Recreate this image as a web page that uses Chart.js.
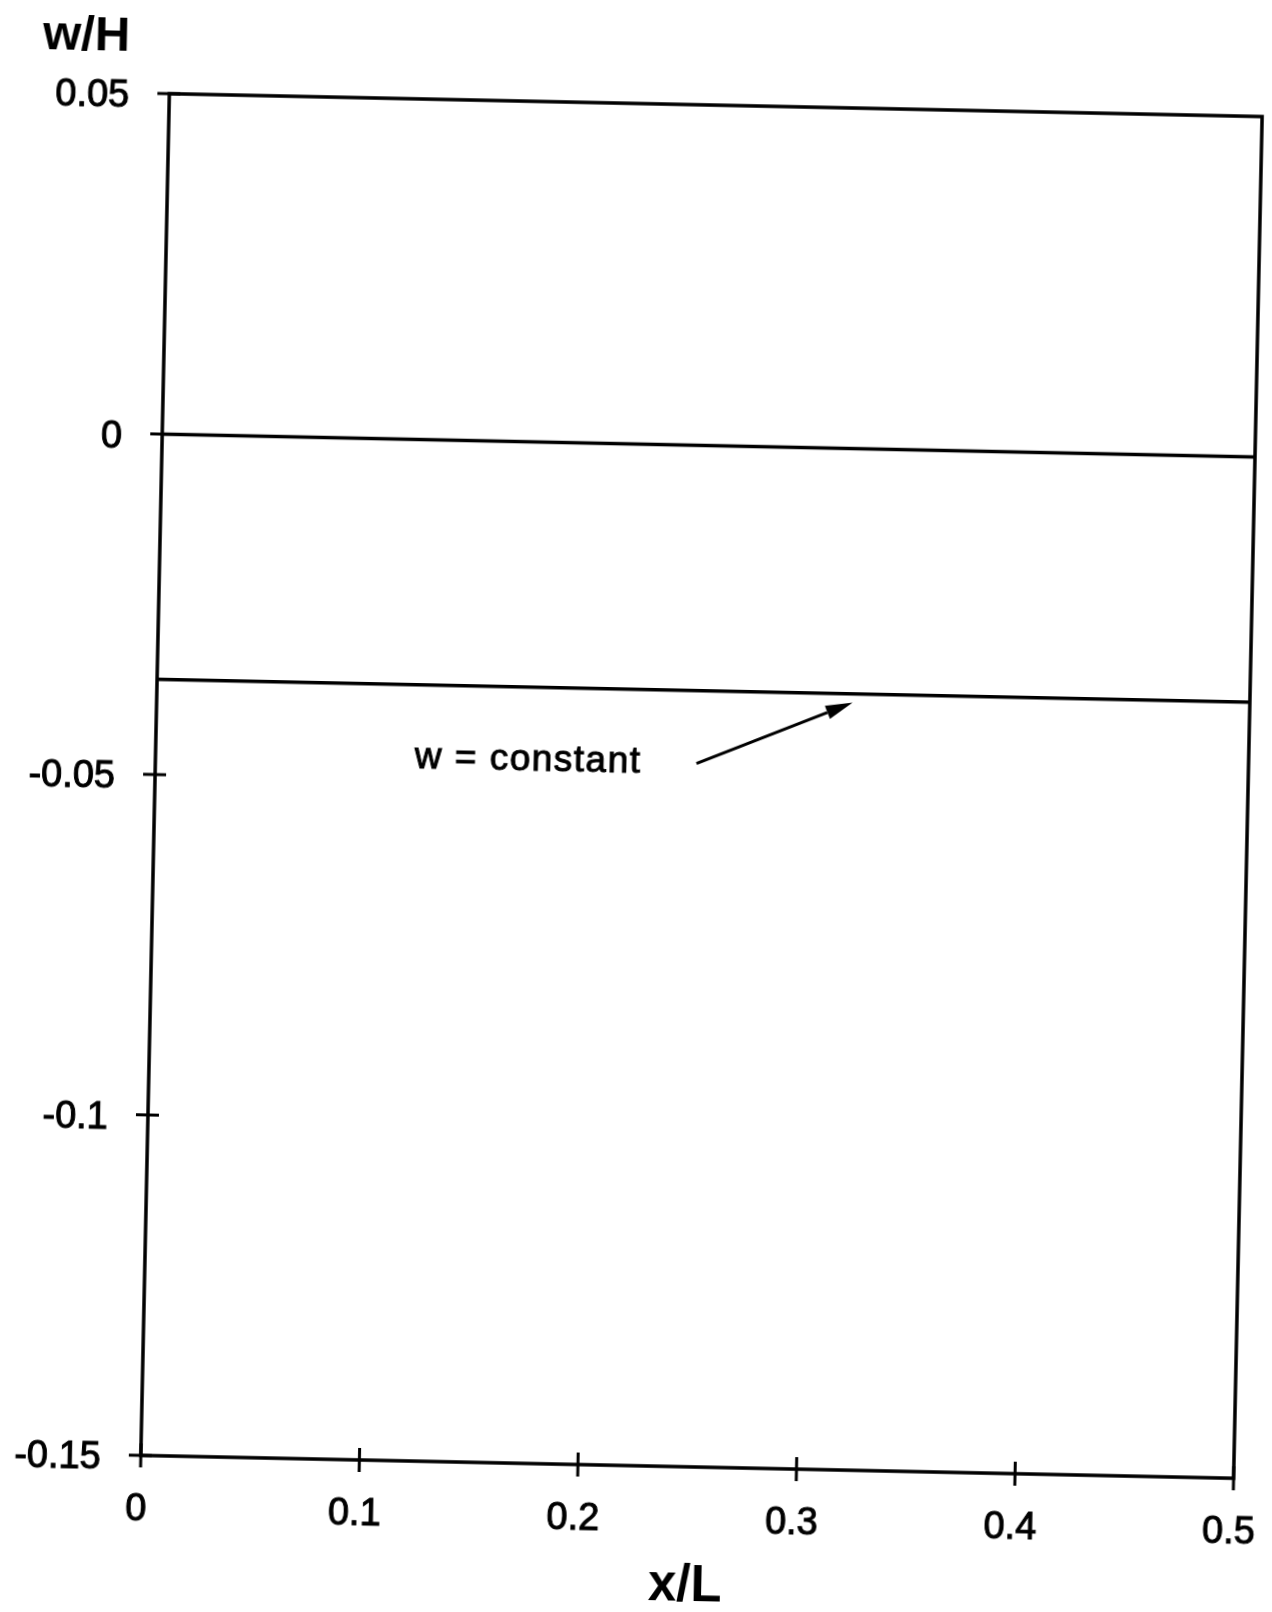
<!DOCTYPE html>
<html>
<head>
<meta charset="utf-8">
<script src="https://cdn.jsdelivr.net/npm/chart.js@4.4.0/dist/chart.umd.min.js"></script>
<style>
  html, body { margin: 0; padding: 0; background: #fff; overflow: hidden; }
  /* the scanned page sits a little crooked, so the whole canvas is turned */
  #wrap { position: absolute; left: 0; top: 0; width: 1272px; height: 1612px;
          transform-origin: 702px 785px; transform: rotate(1.2deg); }
</style>
</head>
<body>
<div id="wrap"><canvas id="chart" width="1272" height="1612"></canvas></div>
<script>
const xValues = [0, 0.5]
const zeroLine = [0, 0]
const constantLine = [-0.036, -0.036]

const xTicks = [0, 0.1, 0.2, 0.3, 0.4, 0.5]
const xTickLabels = ['0', '0.1', '0.2', '0.3', '0.4', '0.5']
const yTicks = [-0.15, -0.1, -0.05, 0, 0.05]
const yTickLabels = ['-0.15', '-0.1', '-0.05', '0', '0.05']

const noteText = 'w = constant'
const notePos = [0.1186, -0.0483]
const arrowFrom = [0.2475, -0.0467]
const arrowTo = [0.3183, -0.0373]

Chart.defaults.font.family = '"Liberation Sans", Arial, sans-serif'
Chart.defaults.color = '#000'

function points(ys) {
  return xValues.map((x, i) => ({ x: x, y: ys[i] }))
}

// keep the tick labels from eating into the plot width
function noEdgePadding(s) {
  s.paddingLeft = 0
  s.paddingRight = 0
  s.paddingTop = 0
  s.paddingBottom = 0
}

const framePlugin = {
  id: 'frame',
  beforeDraw(chart) {
    const ctx = chart.ctx
    ctx.save()
    ctx.fillStyle = '#fff'
    ctx.fillRect(0, 0, chart.width, chart.height)
    ctx.restore()
  },
  afterDraw(chart) {
    const ctx = chart.ctx
    const a = chart.chartArea
    const xs = chart.scales.x
    const ys = chart.scales.y
    ctx.save()
    ctx.strokeStyle = '#000'
    ctx.fillStyle = '#000'
    ctx.lineWidth = 3.5
    ctx.strokeRect(a.left, a.top, a.right - a.left, a.bottom - a.top)

    // ticks cross the axis lines
    ctx.lineWidth = 3
    ctx.beginPath()
    xTicks.forEach(v => {
      const px = xs.getPixelForValue(v)
      ctx.moveTo(px, a.bottom - 12)
      ctx.lineTo(px, a.bottom + 12)
    })
    yTicks.forEach(v => {
      const py = ys.getPixelForValue(v)
      ctx.moveTo(a.left - 12, py)
      ctx.lineTo(a.left + 11, py)
    })
    ctx.stroke()

    // y axis name sits above the axis
    ctx.font = 'bold 49px "Liberation Sans", Arial, sans-serif'
    ctx.textAlign = 'center'
    ctx.textBaseline = 'middle'
    ctx.fillText('w/H', a.left - 84, a.top - 56)

    // note + arrow
    ctx.font = '37px "Liberation Sans", Arial, sans-serif'
    ctx.letterSpacing = '1.5px'
    ctx.textAlign = 'left'
    ctx.textBaseline = 'alphabetic'
    ctx.lineWidth = 1
    const nx = xs.getPixelForValue(notePos[0]), ny = ys.getPixelForValue(notePos[1])
    ctx.fillText(noteText, nx, ny)
    ctx.strokeText(noteText, nx, ny)
    ctx.letterSpacing = '0px'

    const x0 = xs.getPixelForValue(arrowFrom[0]), y0 = ys.getPixelForValue(arrowFrom[1])
    const x1 = xs.getPixelForValue(arrowTo[0]), y1 = ys.getPixelForValue(arrowTo[1])
    const ang = Math.atan2(y1 - y0, x1 - x0)
    const len = 27, half = 7
    const bx = x1 - len * Math.cos(ang), by = y1 - len * Math.sin(ang)
    ctx.lineWidth = 3
    ctx.beginPath()
    ctx.moveTo(x0, y0)
    ctx.lineTo(bx, by)
    ctx.stroke()
    ctx.beginPath()
    ctx.moveTo(x1, y1)
    ctx.lineTo(bx + half * Math.sin(ang), by - half * Math.cos(ang))
    ctx.lineTo(bx - half * Math.sin(ang), by + half * Math.cos(ang))
    ctx.closePath()
    ctx.fill()
    ctx.restore()
  }
}

new Chart(document.getElementById('chart'), {
  type: 'line',
  data: {
    datasets: [
      { label: 'w/H = 0', data: points(zeroLine), borderColor: '#000', borderWidth: 3.5, pointRadius: 0, tension: 0 },
      { label: 'w = constant', data: points(constantLine), borderColor: '#000', borderWidth: 3.5, pointRadius: 0, tension: 0 }
    ]
  },
  plugins: [framePlugin],
  options: {
    responsive: false,
    animation: false,
    events: [],
    layout: { padding: { left: 0, top: 105, right: 24, bottom: 0 } },
    plugins: { legend: { display: false }, tooltip: { enabled: false } },
    scales: {
      x: {
        type: 'linear',
        min: 0,
        max: 0.5,
        afterBuildTicks: s => { s.ticks = xTicks.map(v => ({ value: v })) },
        afterFit: s => { s.height = 145; noEdgePadding(s) },
        grid: { display: false, drawTicks: false },
        border: { display: false },
        ticks: {
          padding: 32,
          labelOffset: -4,
          maxRotation: 0,
          font: { size: 38 },
          textStrokeColor: '#000',
          textStrokeWidth: 1,
          callback: (v, i) => xTickLabels[i]
        },
        title: {
          display: true,
          text: 'x/L',
          font: { size: 51, weight: 'bold', lineHeight: 1 },
          padding: { top: 0, bottom: 0 }
        }
      },
      y: {
        type: 'linear',
        min: -0.15,
        max: 0.05,
        afterBuildTicks: s => { s.ticks = yTicks.map(v => ({ value: v })) },
        afterFit: s => { s.width = 155; noEdgePadding(s) },
        grid: { display: false, drawTicks: false },
        border: { display: false },
        ticks: {
          padding: 40,
          labelOffset: 4,
          font: { size: 38 },
          textStrokeColor: '#000',
          textStrokeWidth: 1,
          callback: (v, i) => yTickLabels[i]
        }
      }
    }
  }
})
</script>
</body>
</html>
